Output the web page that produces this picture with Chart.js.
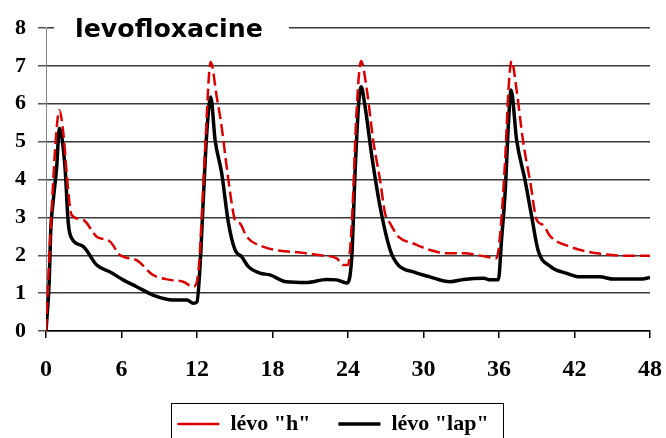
<!DOCTYPE html>
<html>
<head>
<meta charset="utf-8">
<script src="https://cdn.jsdelivr.net/npm/chart.js@4/dist/chart.umd.min.js"></script>
<style>
  html, body { margin: 0; padding: 0; background: #fff; }
  #wrap { width: 666px; height: 438px; }
</style>
</head>
<body>
<div id="wrap"><canvas id="myChart" width="666" height="438"></canvas></div>
<script>
// Concentrations (hours, mg/L)
const titleText = 'levofloxacine';
const xTicks = [0, 6, 12, 18, 24, 30, 36, 42, 48];
const yTicks = [0, 1, 2, 3, 4, 5, 6, 7, 8];

const hLabel = 'lévo "h"';
const hTimes = [0, 0.2, 0.45, 0.72, 0.92, 1.06, 1.38, 1.64, 1.9, 2.04, 2.97, 4.03, 5.09, 5.9, 7.2, 8.5, 9.86, 10.9, 11.7,
  12.1, 12.38, 12.64, 13.09, 13.57, 13.96, 14.36, 14.76, 15.02, 15.42, 15.95, 17.3, 18.6, 20.2, 21.8, 23.1, 23.6, 24.0,
  24.3, 24.7, 25.04, 25.5, 26.0, 26.55, 26.95, 27.35, 28.0, 29.2, 30.5, 31.85, 33.2, 35.0, 35.8,
  36.1, 36.5, 36.75, 37.0, 37.4, 37.9, 38.5, 39.0, 39.5, 40.1, 41.7, 43.8, 45.9, 48];
const hValues = [0, 1.5, 3.2, 4.78, 5.6, 5.83, 5.22, 4.17, 3.28, 3.06, 2.93, 2.49, 2.36, 2.0, 1.87, 1.48, 1.35, 1.30, 1.17,
  1.52, 3.02, 4.78, 7.1, 6.18, 5.39, 4.33, 3.37, 2.93, 2.84, 2.49, 2.22, 2.12, 2.07, 2.0, 1.92, 1.74, 1.74,
  2.84, 5.92, 7.13, 6.36, 5.04, 3.98, 3.1, 2.84, 2.49, 2.31, 2.14, 2.05, 2.05, 1.96, 1.92,
  2.58, 4.6, 6.36, 7.13, 6.36, 5.04, 3.9, 2.93, 2.8, 2.49, 2.22, 2.05, 1.99, 1.99];

const lapLabel = 'lévo "lap"';
const lapTimes = [0, 0.26, 0.37, 0.58, 0.85, 1.06, 1.51, 1.77, 2.04, 2.97, 4.03, 5.09, 6.13, 7.2, 8.5, 10.1, 11.2, 11.7, 12.0,
  12.24, 12.5, 12.77, 13.09, 13.44, 13.96, 14.5, 15.02, 15.55, 16.08, 17.0, 17.8, 19.1, 20.7, 22.3, 23.1, 23.9,
  24.3, 24.56, 24.83, 25.04, 25.36, 25.9, 26.55, 27.35, 28.0, 29.2, 30.5, 32.1, 33.2, 34.8, 35.3, 35.95,
  36.2, 36.5, 36.75, 36.96, 37.4, 38.07, 38.6, 39.1, 40.1, 41.4, 42.4, 44.0, 45.1, 47.2, 48];
const lapValues = [0, 1.35, 2.6, 3.46, 4.33, 5.35, 4.33, 2.85, 2.45, 2.23, 1.74, 1.56, 1.35, 1.17, 0.95, 0.82, 0.82, 0.73, 0.77,
  1.7, 3.46, 5.2, 6.18, 5.04, 4.17, 2.85, 2.14, 1.96, 1.70, 1.53, 1.48, 1.30, 1.28, 1.36, 1.35, 1.27,
  1.96, 4.17, 5.92, 6.45, 5.92, 4.6, 3.28, 2.14, 1.74, 1.56, 1.43, 1.30, 1.36, 1.39, 1.35, 1.35,
  2.4, 3.72, 5.48, 6.36, 5.04, 3.98, 3.02, 2.14, 1.70, 1.52, 1.43, 1.43, 1.37, 1.37, 1.41];

const toPoints = (xs, ys) => xs.map((x, i) => ({ x: x, y: ys[i] }));

// white patch + title on top of the plot, like the original
const titlePlugin = {
  id: 'titlePlugin',
  afterDraw(chart) {
    const ctx = chart.ctx;
    ctx.save();
    ctx.fillStyle = '#fff';
    ctx.fillRect(54, 12, 235, 30);
    let size = 26;
    ctx.font = 'bold ' + size + 'px "DejaVu Sans"';
    const w = ctx.measureText(titleText).width;
    size = size * 188 / w;
    ctx.font = 'bold ' + size + 'px "DejaVu Sans"';
    ctx.fillStyle = '#000';
    ctx.textBaseline = 'alphabetic';
    ctx.fillText(titleText, 75, 37);
    ctx.restore();
  }
};

// frame round the legend
const legendBox = {
  id: 'legendBox',
  afterDraw(chart) {
    const hb = chart.legend.legendHitBoxes;
    if (!hb || !hb.length) return;
    const last = hb[hb.length - 1];
    const ctx = chart.ctx;
    ctx.save();
    ctx.strokeStyle = '#000';
    ctx.lineWidth = 1;
    const left = Math.round(hb[0].left - 6) + 0.5;
    const right = Math.round(last.left + last.width + 14) + 0.5;
    const top = Math.round(hb[0].top - 10) + 0.5;
    ctx.strokeRect(left, top, right - left, 60);
    ctx.restore();
  }
};

const ctx = document.getElementById('myChart');

const myChart = new Chart(ctx, {
  type: 'line',
  data: {
    datasets: [{
      label: hLabel,
      data: toPoints(hTimes, hValues),
      borderColor: 'rgb(220, 0, 0)',
      borderWidth: 2.5,
      borderDash: [12, 5],
      pointRadius: 0,
      cubicInterpolationMode: 'monotone',
      fill: false
    }, {
      label: lapLabel,
      data: toPoints(lapTimes, lapValues),
      borderColor: '#000',
      borderWidth: 3.5,
      pointRadius: 0,
      cubicInterpolationMode: 'monotone',
      fill: false
    }]
  },
  options: {
    responsive: false,
    animation: false,
    layout: { padding: { left: 0, right: 0, top: 28, bottom: -7 } },
    plugins: {
      title: { display: false },
      tooltip: { enabled: false },
      legend: {
        display: true,
        position: 'bottom',
        labels: {
          usePointStyle: true,
          pointStyle: 'line',
          pointStyleWidth: 42,
          padding: 28,
          color: '#000',
          font: { family: '"Liberation Serif"', size: 22, weight: 'bold' }
        }
      }
    },
    scales: {
      x: {
        type: 'linear',
        min: 0,
        max: 48,
        afterBuildTicks: (scale) => { scale.ticks = xTicks.map(v => ({ value: v })); },
        afterFit: (scale) => {
          scale.height = 54;
          scale.paddingLeft = 0;
          scale.paddingRight = 16;
        },
        ticks: {
          color: '#000',
          padding: 17,
          maxRotation: 0,
          font: { family: '"Liberation Serif"', size: 24, weight: 'bold' }
        },
        grid: {
          display: true,
          drawOnChartArea: false,
          tickLength: 7,
          color: '#000',
          lineWidth: 1.5
        },
        border: { color: '#000', width: 1.5 }
      },
      y: {
        min: 0,
        max: 8,
        afterBuildTicks: (scale) => { scale.ticks = yTicks.map(v => ({ value: v })); },
        afterFit: (scale) => { scale.width = 46; },
        ticks: {
          color: '#000',
          padding: 12,
          font: { family: '"Liberation Serif"', size: 22, weight: 'bold' }
        },
        grid: {
          color: '#3a3a3a',
          lineWidth: 1.5,
          tickLength: 8,
          tickColor: '#555'
        },
        border: { color: '#888', width: 1 }
      }
    }
  },
  plugins: [titlePlugin, legendBox]
});
</script>
</body>
</html>
